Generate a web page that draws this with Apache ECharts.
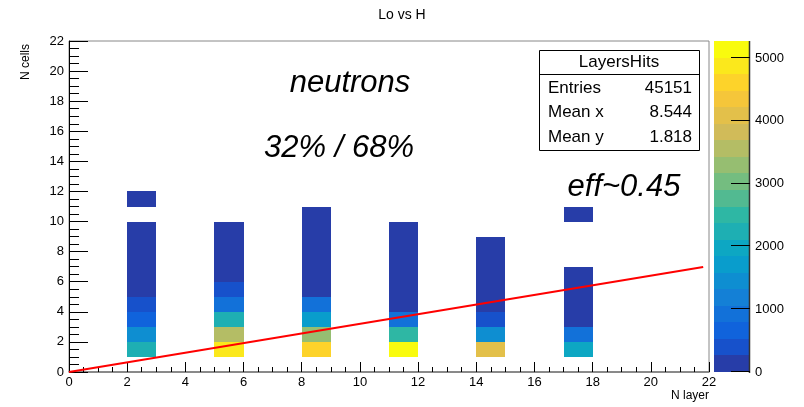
<!DOCTYPE html>
<html><head><meta charset="utf-8">
<script src="https://cdn.jsdelivr.net/npm/echarts@6/dist/echarts.min.js"></script>
<style>html,body{margin:0;padding:0;background:#fff}#chart{width:804px;height:407px}</style>
</head><body><div id="chart"></div>
<script>
// Layer columns (lower x edge of each 1-wide bin) and counts per N-cells bin (array index = lower y edge)
const layers    = [2, 5, 8, 11, 14, 17];
const countsL2  = [0, 2200, 1450, 650, 400, 60, 30, 15, 8, 4, 0, 2];
const countsL5  = [0, 4850, 3550, 2250, 920, 400, 45, 20, 10, 4];
const countsL8  = [0, 4600, 3300, 1700, 800, 55, 25, 12, 6, 3, 1];
const countsL11 = [0, 5270, 2500, 900, 60, 25, 11, 5, 2, 1];
const countsL14 = [0, 4100, 1550, 420, 50, 20, 8, 3, 1];
const countsL17 = [0, 1950, 800, 45, 18, 6, 2, 0, 0, 0, 1];

// Straight reference line endpoints
const fitX = [0, 21.8];
const fitY = [0, 6.98];

// Axis ticks
const axisTicks = [0, 2, 4, 6, 8, 10, 12, 14, 16, 18, 20, 22];
const zTicks = [0, 1000, 2000, 3000, 4000, 5000];

// Statistics box and annotations
const statsTitle = 'LayersHits';
const statsLabels = ['Entries', 'Mean x', 'Mean y'];
const statsValues = ['45151', '8.544', '1.818'];
const notes = ['neutrons', '32% / 68%', 'eff~0.45'];

const columns = [countsL2, countsL5, countsL8, countsL11, countsL14, countsL17];
const cells = [];
columns.forEach((col, i) => col.forEach((v, y) => { if (v > 0) cells.push([layers[i], y, v]); }));
const zMax = Math.max(...cells.map(c => c[2]));
const nContours = 20;
const dz = zMax / nContours;

// Bird palette
const stops = [0.0, 0.125, 0.25, 0.375, 0.5, 0.625, 0.75, 0.875, 1.0];
const red   = [0.2082, 0.0592, 0.0780, 0.0232, 0.1802, 0.5301, 0.8186, 0.9956, 0.9764];
const green = [0.1664, 0.3599, 0.5041, 0.6419, 0.7178, 0.7492, 0.7328, 0.7862, 0.9832];
const blue  = [0.5293, 0.8684, 0.8385, 0.7914, 0.6425, 0.4662, 0.3499, 0.1968, 0.0539];
function bird(f) {
  let s = 0;
  while (s < stops.length - 2 && f > stops[s + 1]) s++;
  const t = (f - stops[s]) / (stops[s + 1] - stops[s]);
  const c = a => Math.round(255 * (a[s] + (a[s + 1] - a[s]) * t));
  return 'rgb(' + c(red) + ',' + c(green) + ',' + c(blue) + ')';
}
function bandColor(k) {
  const idx = Math.floor((k + 0.99) * 255 / nContours);
  return bird(Math.min(1, idx / 254));
}
function colorFor(v) {
  return bandColor(Math.min(nContours - 1, Math.floor(v / dz)));
}
// colour scale bands: [x, band index]
const bands = [];
for (let k = 0; k < nContours; k++) bands.push([0, k]);

// Pixel-snapped rectangle between two data corners
function cellRect(api, x0, y0, x1, y1, fill) {
  const p0 = api.coord([x0, y1]);
  const p1 = api.coord([x1, y0]);
  const l = Math.round(p0[0]), t = Math.round(p0[1]);
  const r = Math.round(p1[0]), b = Math.round(p1[1]);
  return { type: 'rect', shape: { x: l, y: t, width: r - l, height: b - t }, style: { fill: fill } };
}

const font = 'Liberation Sans, Arial, Helvetica, sans-serif';
const chart = echarts.init(document.getElementById('chart'), null, { renderer: 'canvas' });

const axisCommon = {
  type: 'value', min: 0, max: 22, interval: 2,
  axisLine: { show: true, lineStyle: { color: '#000', width: 1 } },
  axisLabel: { color: '#000', fontSize: 13, fontFamily: font },
  splitLine: { show: false },
  minorSplitLine: { show: false }
};

const textGraphics = [
  { type: 'text', x: 32, y: 62, rotation: Math.PI / 2, style: { text: 'N cells', font: '12px ' + font, fill: '#000', textAlign: 'center', textVerticalAlign: 'bottom' } },
  { type: 'text', x: 709, y: 396, style: { text: 'N layer', font: '12px ' + font, fill: '#000', textAlign: 'right', textVerticalAlign: 'middle' } },
  { type: 'text', x: 350, y: 83, style: { text: notes[0], font: 'italic 31px ' + font, fill: '#000', textAlign: 'center', textVerticalAlign: 'middle' } },
  { type: 'text', x: 339, y: 148, style: { text: notes[1], font: 'italic 31px ' + font, fill: '#000', textAlign: 'center', textVerticalAlign: 'middle' } },
  { type: 'text', x: 624, y: 187, style: { text: notes[2], font: 'italic 31px ' + font, fill: '#000', textAlign: 'center', textVerticalAlign: 'middle' } },
  { type: 'rect', shape: { x: 539.5, y: 50.5, width: 160, height: 100 }, style: { fill: '#fff', stroke: '#000', lineWidth: 1 }, z: 10 },
  { type: 'line', shape: { x1: 539.5, y1: 74.5, x2: 699.5, y2: 74.5 }, style: { stroke: '#000', lineWidth: 1 }, z: 11 },
  { type: 'text', x: 619, y: 62, z: 11, style: { text: statsTitle, font: '17px ' + font, fill: '#000', textAlign: 'center', textVerticalAlign: 'middle' } },
  ...statsLabels.map((t, i) => ({ type: 'text', x: 548, y: 88 + i * 24.5, z: 11, style: { text: t, font: '17px ' + font, fill: '#000', textAlign: 'left', textVerticalAlign: 'middle' } })),
  ...statsValues.map((t, i) => ({ type: 'text', x: 692, y: 88 + i * 24.5, z: 11, style: { text: t, font: '17px ' + font, fill: '#000', textAlign: 'right', textVerticalAlign: 'middle' } }))
];

chart.setOption({
  animation: false,
  backgroundColor: '#fff',
  title: {
    text: 'Lo vs H', left: 'center', top: 3,
    textStyle: { fontSize: 14, fontWeight: 'normal', color: '#000', fontFamily: font }
  },
  grid: [
    { left: 69, top: 41, width: 640, height: 331, show: true, borderColor: '#888', borderWidth: 1, backgroundColor: 'transparent' },
    { left: 714, top: 41, width: 36, height: 331, show: false }
  ],
  xAxis: [
    Object.assign({}, axisCommon, {
      gridIndex: 0,
      axisLine: { show: true, lineStyle: { color: '#777', width: 1.5 } },
      axisTick: { inside: true, length: 10, lineStyle: { color: '#000' }, customValues: axisTicks },
      minorTick: { show: true, splitNumber: 4, length: 5, lineStyle: { color: '#000' } },
      axisLabel: { color: '#000', fontSize: 13, fontFamily: font, margin: 4 }
    }),
    { type: 'value', gridIndex: 1, min: 0, max: 1, show: false }
  ],
  yAxis: [
    Object.assign({}, axisCommon, {
      gridIndex: 0,
      axisTick: { inside: true, length: 19, lineStyle: { color: '#000' } },
      minorTick: { show: true, splitNumber: 4, length: 10, lineStyle: { color: '#000' } },
      axisLabel: { color: '#000', fontSize: 13, fontFamily: font, margin: 5 }
    }),
    {
      type: 'value', gridIndex: 1, position: 'right', min: 0, max: zMax,
      axisLine: { show: false, onZero: false },
      axisTick: { show: false },
      axisLabel: { color: '#000', fontSize: 13, fontFamily: font, margin: 5, customValues: zTicks, formatter: v => String(v) },
      splitLine: { show: false }
    }
  ],
  series: [
    {
      type: 'custom', xAxisIndex: 0, yAxisIndex: 0, data: cells,
      renderItem: function (params, api) {
        const x = api.value(0), y = api.value(1), v = api.value(2);
        return cellRect(api, x, y, x + 1, y + 1, colorFor(v));
      }
    },
    {
      type: 'line', xAxisIndex: 0, yAxisIndex: 0,
      data: fitX.map((x, i) => [x, fitY[i]]),
      symbol: 'none', lineStyle: { color: '#ff0000', width: 2 }, z: 5
    },
    {
      type: 'custom', xAxisIndex: 1, yAxisIndex: 1, data: bands, z: 1,
      renderItem: function (params, api) {
        const k = api.value(1);
        return cellRect(api, 0, k * dz, 1, (k + 1) * dz, bandColor(k));
      }
    }
  ],
  graphic: textGraphics
});

// Colour scale edge and tick marks, placed through the colour axis scale
const edgeX = Math.round(chart.convertToPixel({ xAxisIndex: 1 }, 1));
const yTop = Math.round(chart.convertToPixel({ yAxisIndex: 1 }, zMax));
const yBot = Math.round(chart.convertToPixel({ yAxisIndex: 1 }, 0));
const scaleMarks = [
  { type: 'line', z: 20, shape: { x1: edgeX - 0.5, y1: yTop, x2: edgeX - 0.5, y2: yBot + 1 }, style: { stroke: '#333', lineWidth: 1.5 } }
];
zTicks.forEach(t => {
  const py = Math.round(chart.convertToPixel({ yAxisIndex: 1 }, t)) - 0.5;
  scaleMarks.push({ type: 'line', z: 20, shape: { x1: edgeX - 19, y1: py, x2: edgeX, y2: py }, style: { stroke: '#000', lineWidth: 1 } });
});
chart.setOption({ graphic: textGraphics.concat(scaleMarks) }, { replaceMerge: ['graphic'] });
</script>
</body></html>
